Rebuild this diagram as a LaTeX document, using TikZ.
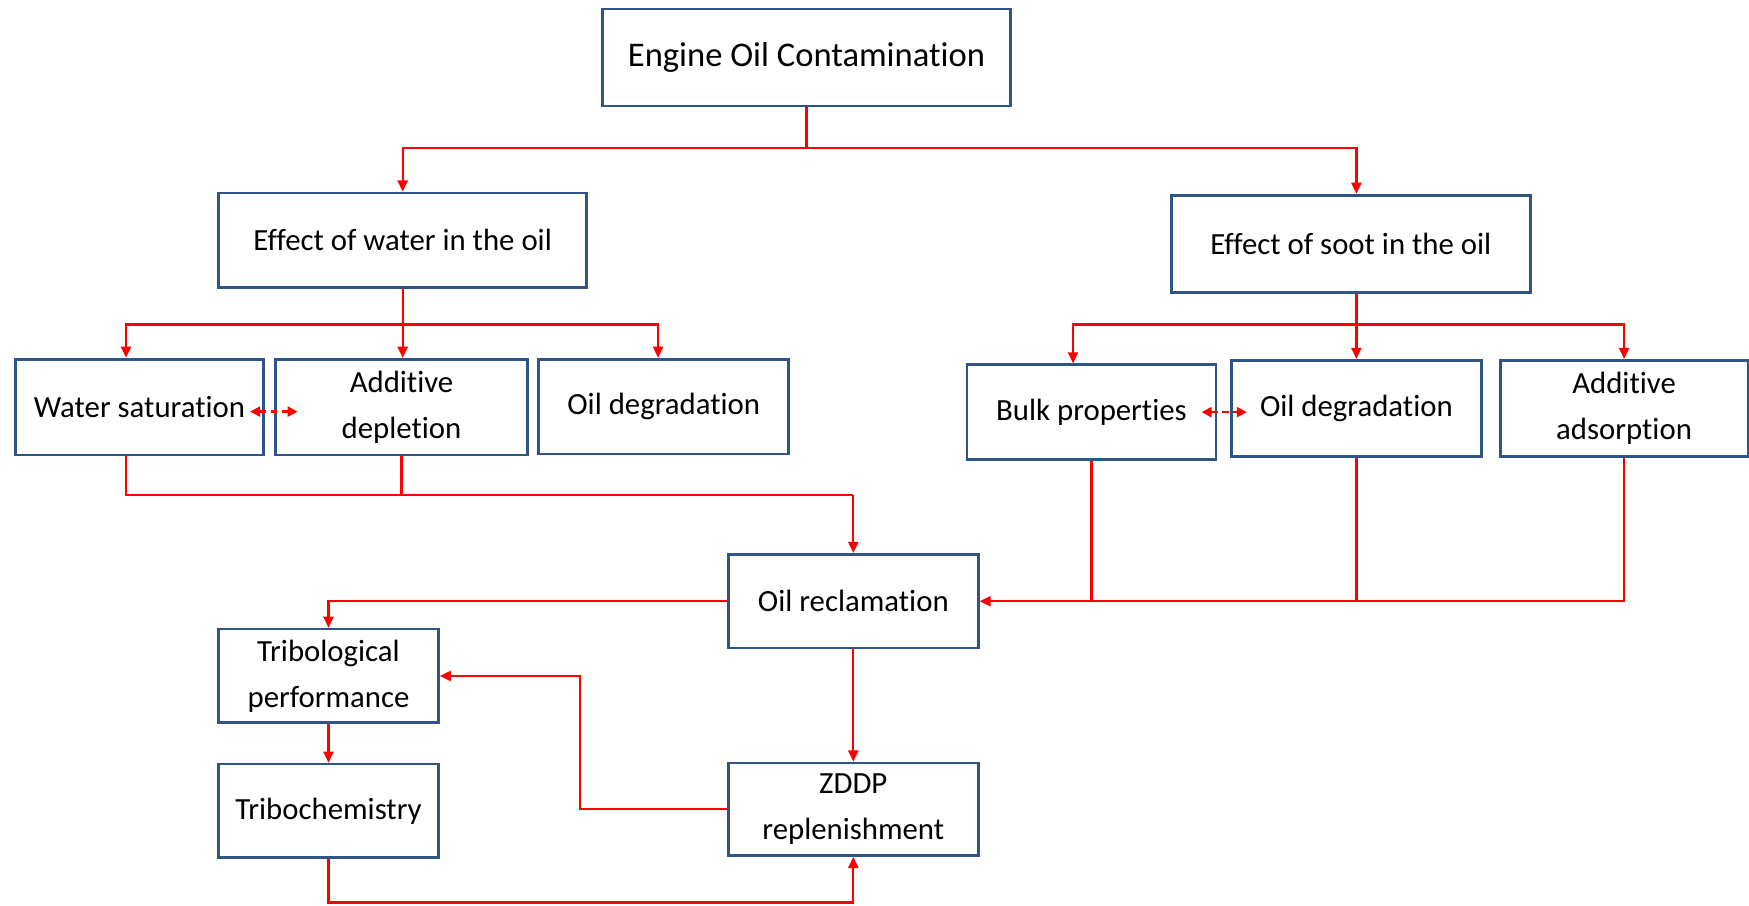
\documentclass[tikz,border=0pt]{standalone}
\usepackage{fontspec}
\setmainfont{Carlito}[Ligatures=NoCommon]
\usetikzlibrary{arrows.meta,calc}
\definecolor{boxblue}{HTML}{2F5586}
\definecolor{linered}{HTML}{FF0000}
\tikzset{
  box/.style={draw=boxblue, line width=1.2pt, fill=white, inner sep=0pt, align=center,
    font=\fontsize{13.8}{20.5}\selectfont},
  conn/.style={draw=linered, line width=1pt},
  arr/.style={conn, -{Triangle[length=5pt,width=4.5pt]}},
  darr/.style={conn, dash pattern=on 3pt off 2pt, {Triangle[length=4.5pt,width=4.5pt]}-{Triangle[length=4.5pt,width=4.5pt]}}
}
\begin{document}
\begin{tikzpicture}[x=0.5pt,y=-0.5pt]
\useasboundingbox (0,0) rectangle (1568,812);
% boxes
\node[box, minimum width=183pt, minimum height=43.5pt, font=\fontsize{15.5}{19}\selectfont] (eng) at (723,51.5) {Engine Oil Contamination};
\node[box, minimum width=165pt, minimum height=42.5pt] (we) at (361,215.5) {Effect of water in the oil};
\node[box, minimum width=161pt, minimum height=43.5pt] (se) at (1211,218.5) {Effect of soot in the oil};
\node[box, minimum width=111pt, minimum height=43pt] (ws) at (125,365) {Water saturation};
\node[box, minimum width=113pt, minimum height=43pt] (ad) at (360,365) {Additive\\depletion};
\node[box, minimum width=112pt, minimum height=42.5pt] (odl) at (595,364.5) {Oil degradation};
\node[box, minimum width=111.5pt, minimum height=42.5pt] (bulk) at (978.5,369.5) {Bulk properties};
\node[box, minimum width=112pt, minimum height=43pt] (odr) at (1216,366) {Oil degradation};
\node[box, minimum width=111pt, minimum height=43pt] (aa) at (1456,366) {Additive\\adsorption};
\node[box, minimum width=112pt, minimum height=42pt] (rec) at (765,539) {Oil reclamation};
\node[box, minimum width=98.5pt, minimum height=42pt] (trib) at (294.5,606) {Tribological\\performance};
\node[box, minimum width=98.5pt, minimum height=42pt] (tchem) at (294.5,727) {Tribochemistry};
\node[box, minimum width=112pt, minimum height=41.5pt] (zddp) at (765,725.5) {ZDDP\\replenishment};
% top level
\coordinate (j1) at (eng.south |- 0,133);
\draw[conn] (eng.south) -- (j1);
\draw[arr] (j1) -| (we.north);
\draw[arr] (j1) -| ([xshift=2.5pt]se.north);
% water branches
\coordinate (j2) at (we.south |- 0,291);
\draw[conn] (we.south) -- (j2);
\draw[arr] (j2) -| ([xshift=-6pt]ws.north);
\draw[arr] (j2) -- (j2 |- ad.north);
\draw[arr] (j2) -| ([xshift=-2.5pt]odl.north);
% soot branches
\coordinate (j3) at ([xshift=2.5pt]se.south |- 0,291);
\draw[conn] ([xshift=2.5pt]se.south) -- (j3);
\draw[arr] (j3) -| ([xshift=-8.25pt]bulk.north);
\draw[arr] (j3) -- (j3 |- odr.north);
\draw[arr] (j3) -| (aa.north);
% double arrows
\draw[darr] ($(ws.east)+(-13,4)$) -- ($(ad.west)+(21,4)$);
\draw[darr] ($(bulk.east)+(-14,0)$) -- ($(odr.west |- bulk.east)+(15,0)$);
% water to reclamation
\coordinate (j4) at (rec.north |- 0,444);
\draw[conn] ([xshift=-6pt]ws.south) |- (j4);
\draw[conn] (ad.south) -- (ad.south |- j4);
\draw[arr] (j4) -- (rec.north);
% soot to reclamation
\draw[arr] (aa.south) |- (rec.east);
\draw[conn] (bulk.south) -- (bulk.south |- rec.east);
\draw[conn] (odr.south) -- (odr.south |- rec.east);
% lower part
\draw[arr] (rec.west) -| (trib.north);
\draw[arr] (trib.south) -- (tchem.north);
\draw[arr] (rec.south) -- (zddp.north);
\coordinate (j6) at ($(zddp.west)+(-132,0)$);
\draw[arr] (zddp.west) -- (j6) |- (trib.east);
\coordinate (j7) at ($(tchem.south)+(0,39)$);
\draw[arr] (tchem.south) -- (j7) -| (zddp.south);
\end{tikzpicture}
\end{document}
